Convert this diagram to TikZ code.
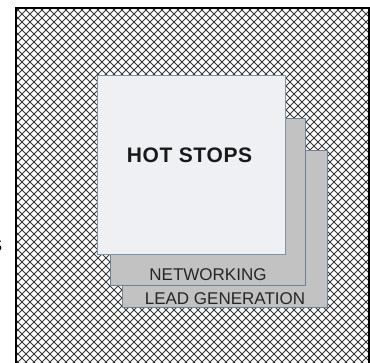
\documentclass[tikz,border=0pt]{standalone}
\usepackage{fontspec}
\setmainfont{Liberation Sans}
\definecolor{frontfill}{HTML}{EEF0F4}
\definecolor{frontline}{HTML}{7F93A8}
\definecolor{backfill}{HTML}{C2C2C2}
\definecolor{backline}{HTML}{6C8196}
\definecolor{hatch}{HTML}{383838}
\tikzset{
  backbox/.style={draw=backline, line width=1pt, fill=backfill, inner sep=0pt, anchor=north west},
  frontbox/.style={draw=frontline, line width=1pt, fill=frontfill, inner sep=0pt, anchor=north west},
  boxtext/.style={font=\fontsize{17}{18}\selectfont, text=black!85, inner sep=0pt},
  hottext/.style={font=\fontsize{21}{22}\selectfont\bfseries\addfontfeatures{LetterSpace=3}, text=black!90, inner sep=0pt},
  hatchline/.style={draw=hatch, line width=0.75pt}
}
\begin{document}
\begin{tikzpicture}[x=1pt,y=-1pt]
\useasboundingbox (0,0) rectangle (370,363);
\fill[white] (0,0) rectangle (370,363);
% hatched field inside the frame
\begin{scope}
  \clip (16,8) rectangle (369,375);
  \fill[white] (16,8) rectangle (369,375);
  \foreach \c in {-400,-392,...,400} {
    \draw[hatchline] (0,{0-\c}) -- (400,{400-\c});
  }
  \foreach \c in {-4,4,...,804} {
    \draw[hatchline] (0,{\c}) -- (400,{\c-400});
  }
\end{scope}
% frame
\coordinate (fbl) at (16,375);
\coordinate (ftl) at (16,8);
\coordinate (ftr) at (369,8);
\coordinate (fbr) at (369,375);
\draw[line width=2.4pt, black] (fbl) -- (ftl) -- (ftr) -- (fbr);
% partial glyph at the left edge
\node[font=\fontsize{17}{18}\selectfont, anchor=east, inner sep=0pt] (cut) at (2.5,246) {S};
% stacked boxes
\node[backbox, minimum width=205pt, minimum height=157pt] (lead) at (122,150) {};
\node[backbox, minimum width=195pt, minimum height=167pt] (net) at (110,118) {};
\node[frontbox, minimum width=188pt, minimum height=179pt] (hot) at (97,75) {};
% texts
\node[boxtext] (leadtxt) at ([yshift=9pt]lead.south) {LEAD GENERATION};
\node[boxtext] (nettxt) at ([yshift=11pt]net.south) {NETWORKING};
\node[hottext] (hottxt) at ([xshift=-2pt,yshift=10pt]hot.center) {HOT STOPS};
\end{tikzpicture}
\end{document}
